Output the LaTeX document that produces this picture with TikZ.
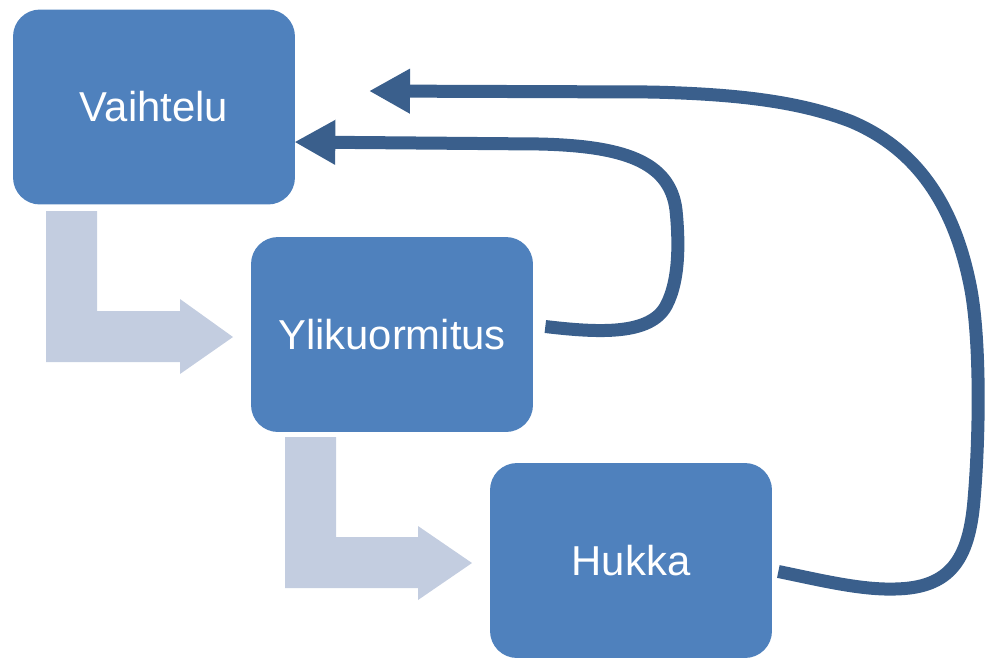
\documentclass[tikz,border=0pt]{standalone}
\usepackage{fontspec}
\setmainfont{Liberation Sans}
\usetikzlibrary{arrows.meta,calc}
\definecolor{boxblue}{HTML}{4F81BD}
\definecolor{lightarrow}{HTML}{C3CDE0}
\definecolor{darkarrow}{HTML}{3A5F8C}
\tikzset{
  stagebox/.style={fill=boxblue, draw=none, rounded corners=0.54cm, minimum width=5.64cm, minimum height=3.9cm, inner sep=0pt, text=white, font=\fontsize{23.8}{28}\selectfont},
  bentarrow/.style={fill=lightarrow, draw=none},
  loopback/.style={draw=darkarrow, line width=0.26cm, -{Triangle[length=0.82cm,width=0.84cm]}}
}
\begin{document}
\begin{tikzpicture}[x=0.02cm,y=-0.02cm]
\useasboundingbox (0,0) rectangle (993,657);
\node[stagebox] (vai) at (154,107) {Vaihtelu};
\node[stagebox] (yli) at (392,334.5) {Ylikuormitus};
\node[stagebox] (huk) at (631,560.5) {Hukka};
% light bent arrows
\fill[bentarrow] (46,211) -- (97,211) -- (97,311) -- (180,311) -- (180,299) -- (233,337) -- (180,374) -- (180,362) -- (46,362) -- cycle;
\fill[bentarrow] (285,437) -- (336,437) -- (336,537) -- (418,537) -- (418,526) -- (472,563) -- (418,600) -- (418,588) -- (285,588) -- cycle;
% feedback arrows
\coordinate (s1) at ($(yli.east)+(12,-8)$);
\coordinate (e1) at ($(vai.east)+(-1,35)$);
\coordinate (s2) at ($(huk.east)+(6,11)$);
\coordinate (e2) at (369,91);
\draw[loopback] (s1) .. controls (600,333) and (650,335) .. (666,306)
  .. controls (680,280) and (679,240) .. (676,210)
  .. controls (670,160) and (620,146) .. (540,144) -- (e1);
\draw[loopback] (s2) .. controls (820,580) and (860,590) .. (895,589)
  .. controls (950,588) and (969,560) .. (974,500)
  .. controls (980,430) and (980,340) .. (971,290)
  .. controls (956,210) and (920,150) .. (850,121)
  .. controls (800,102) and (740,94) .. (650,92) -- (e2);
\end{tikzpicture}
\end{document}
